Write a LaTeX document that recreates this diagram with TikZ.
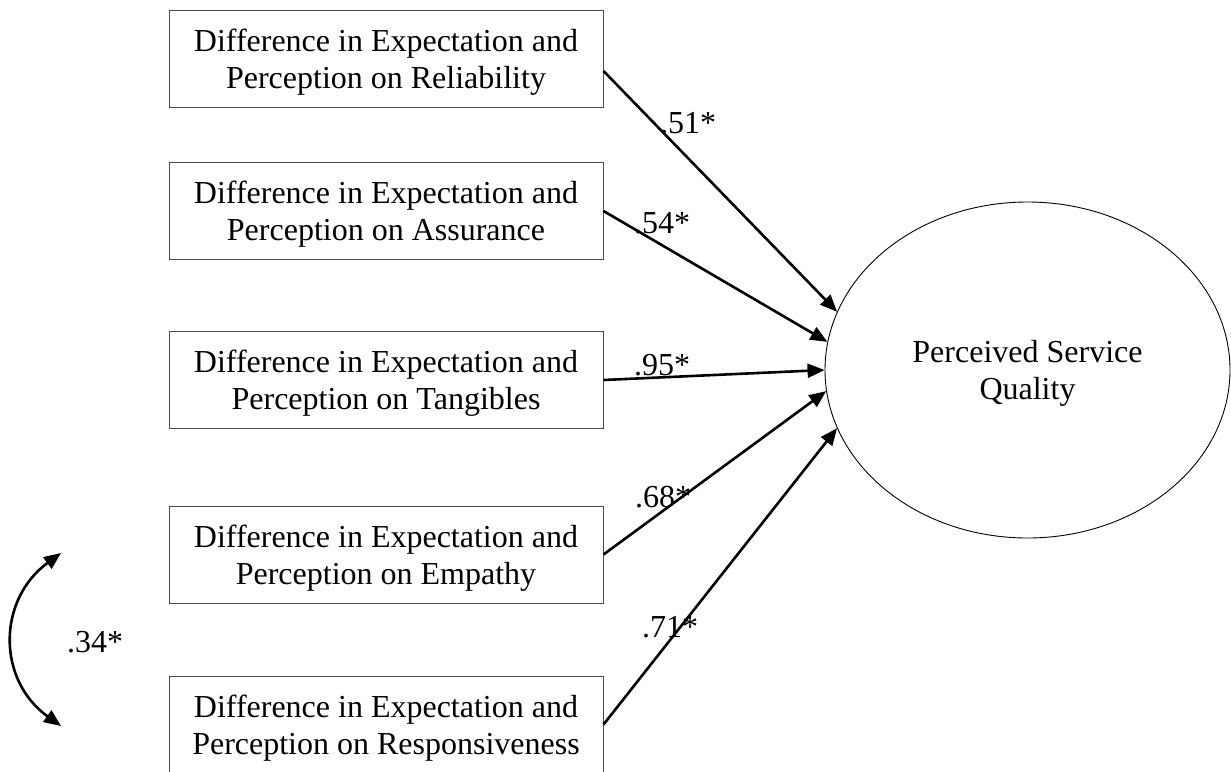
\documentclass[tikz,border=0pt]{standalone}
\usepackage{fontspec}
\setmainfont{Liberation Serif}
\usetikzlibrary{arrows.meta,shapes.geometric}
\begin{document}
\begin{tikzpicture}[x=1pt,y=-1pt,
  font=\fontsize{32}{37}\selectfont,
  boxnode/.style={draw=black!70,line width=1pt,rectangle,minimum width=434pt,minimum height=97pt,inner sep=0pt},
  boxtext/.style={align=center,inner sep=0pt},
  latent/.style={draw,line width=0.9pt,ellipse,minimum width=405pt,minimum height=336pt,inner sep=0pt},
  arr/.style={line width=2.6pt,-{Triangle[length=17pt,width=14pt]}},
  coef/.style={inner sep=0pt}]
\useasboundingbox (0,0) rectangle (1231,771);
% boxes
\node[boxnode] (b1) at (386,58.5) {};
\node[boxnode] (b2) at (386,211) {};
\node[boxnode] (b3) at (386,380) {};
\node[boxnode] (b4) at (386,554.5) {};
\node[boxnode] (b5) at (386,724.5) {};
\node[boxtext] (t1) at ([yshift=-3.5pt]b1.center) {Difference in Expectation and\\Perception on Reliability};
\node[boxtext] (t2) at ([yshift=-3.5pt]b2.center) {Difference in Expectation and\\Perception on Assurance};
\node[boxtext] (t3) at ([yshift=-3.5pt]b3.center) {Difference in Expectation and\\Perception on Tangibles};
\node[boxtext] (t4) at ([yshift=-3.5pt]b4.center) {Difference in Expectation and\\Perception on Empathy};
\node[boxtext] (t5) at ([yshift=-3.5pt]b5.center) {Difference in Expectation and\\Perception on Responsiveness};
% latent
\node[latent] (pq) at (1027.5,370) {};
\node[boxtext] (pqt) at ([yshift=-3pt]pq.center) {Perceived Service\\Quality};
% paths
\draw[arr] ([yshift=-12.5pt]b1.east) -- (pq.163.7);
\draw[arr] (b2.east) -- (pq.172.3);
\draw[arr] (b3.east) -- (pq.180.3);
\draw[arr] (b4.east) -- (pq.186.8);
\draw[arr] (b5.east) -- (pq.197.6);
% coefficients
\node[coef] (c1) at (688,123) {.51*};
\node[coef] (c2) at (662,223) {.54*};
\node[coef] (c3) at (662,365) {.95*};
\node[coef] (c4) at (663,497) {.68*};
\node[coef] (c5) at (670,627) {.71*};
% correlation
\coordinate (ct) at (61,553);
\coordinate (cb) at (61,726);
\draw[line width=2.6pt,{Triangle[length=17pt,width=14pt]}-{Triangle[length=17pt,width=14pt]}] (ct) .. controls (-3,600) and (-3,680) .. (cb);
\node[coef] (c6) at (95,642) {.34*};
\end{tikzpicture}
\end{document}
